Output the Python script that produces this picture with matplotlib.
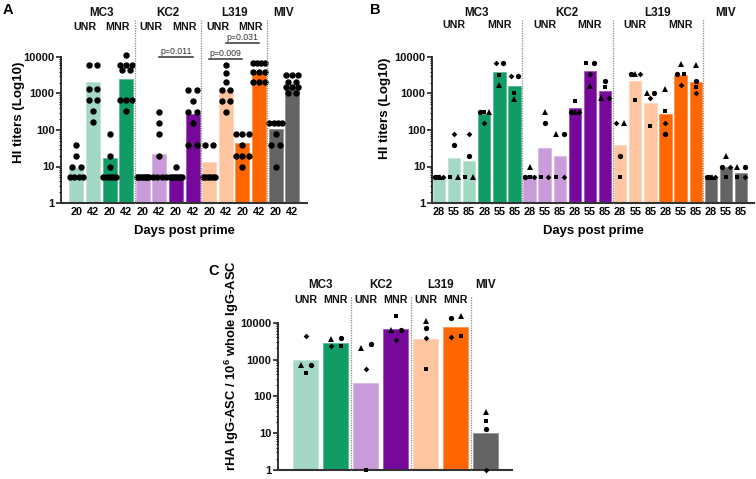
import numpy as np
import matplotlib
matplotlib.use('Agg')
import matplotlib.pyplot as plt
from matplotlib.transforms import blended_transform_factory
from matplotlib.lines import Line2D
from matplotlib.ticker import LogLocator, NullFormatter, FixedLocator, FixedFormatter

# ---------------- data ----------------
strains = ['MC3', 'KC2', 'L319', 'MIV']
regimens = ['UNR', 'MNR']
days_A = ['20', '42']
days_B = ['28', '55', '85']
group_colors = ['#a3d9c4', '#109c64', '#c99bd8', '#76089a', '#ffc4a0', '#ff6600', '#646464']

# Panel A: HI titers, individual animals (circles) and bar heights
A_points = [
    [40, 20, 10, 10, 5, 5, 5, 5],
    [6000, 6000, 1320, 1320, 660, 660, 330, 168],
    [80, 20, 10, 5, 5, 5, 5, 5],
    [11500, 6000, 6000, 6000, 4400, 4400, 660, 660, 660, 330],
    [5, 5, 5, 5, 5, 5, 5, 5],
    [320, 160, 80, 20, 5, 5, 5, 5],
    [10, 5, 5, 5, 5, 5, 5, 5],
    [1280, 1280, 640, 320, 320, 160, 40, 40],
    [40, 40, 5, 5, 5, 5, 5, 5],
    [6000, 3560, 2100, 1280, 1280, 640, 640, 320],
    [80, 80, 80, 40, 20, 20, 20, 10],
    [6900, 6900, 6900, 6900, 3900, 3900, 3900, 2070, 2070, 2070],
    [160, 160, 160, 160, 80, 40, 40, 10],
    [3200, 3200, 3200, 2100, 2100, 1540, 1540, 1540, 1000, 1000],
]
A_bar = [9.3, 2030, 16.7, 2500, 5, 21.6, 5, 275, 13.5, 1250, 43, 3800, 105, 1550]
A_pvalues = [('p=0.011', 5, 7), ('p=0.009', 8, 10), ('p=0.031', 9, 11)]

# Panel B: HI titers per animal (circle, square, triangle, diamond)
B_circle = [5, 40, 20, 320, 6850, 3000, 5, 160, 80, 320, 6850, 2200, 20, 3400, 1050, 80, 3400, 2200, 5, 10, 10]
B_square = [5, 5, 5, 320, 3300, 1000, 5, 5, 5, 640, 6800, 1480, 5, 660, 126, 325, 3400, 1500, 5, 5, 5]
B_triangle = [5, 5, 5, 320, 1670, 720, 10, 320, 79, 320, 1630, 735, 160, 3400, 1040, 1300, 6600, 5900, 5, 20, 9.9]
B_diamond = [5, 80, 80, 160, 6800, 2980, 5, 5, 5, 320, 3400, 740, 158, 3400, 740, 160, 1670, 1050, 5, 10, 5]
B_bar = [5, 16.7, 14, 275, 3900, 1600, 5.9, 32, 19, 390, 4060, 1170, 39, 2200, 560, 270, 3150, 2050, 5, 10, 6.8]

# Panel C: rHA IgG-ASC per 10^6 IgG-ASC (circle, square, triangle, diamond)
C_circle = [710, 3950, 2620, 6350, 7370, 13800, 13]
C_square = [425, 2340, 1, 15200, 555, 4300, 22]
C_triangle = [705, 3550, 2030, 6200, 11400, 15500, 38]
C_diamond = [4460, 2330, 545, 3400, 3950, 4200, 1]
C_bar = [975, 2880, 235, 6620, 3640, 7800, 10]

# ---------------- setup ----------------
W, H = 756, 479
plt.rcParams['font.family'] = ['Liberation Sans', 'DejaVu Sans']
plt.rcParams['font.weight'] = 'bold'
plt.rcParams['mathtext.fontset'] = 'custom'
plt.rcParams['mathtext.rm'] = 'Liberation Sans:bold'
plt.rcParams['mathtext.default'] = 'rm'
fig = plt.figure(figsize=(W / 100, H / 100), dpi=100)


def fy(y):
    return 1 - y / H


def lighten(c, f):
    rgb = np.array(matplotlib.colors.to_rgb(c))
    return tuple(rgb + (1 - rgb) * f)


def make_axes(rect_px, xlim):
    l, t, r, b = rect_px
    ax = fig.add_axes([l / W, 1 - b / H, (r - l) / W, (b - t) / H])
    ax.set_yscale('log')
    ax.set_ylim(1, 10000)
    ax.set_xlim(*xlim)
    for s in ['top', 'right']:
        ax.spines[s].set_visible(False)
    ax.spines['left'].set_linewidth(1.3)
    ax.spines['left'].set_color('#222222')
    ax.spines['bottom'].set_linewidth(1.5)
    ax.spines['bottom'].set_color('#333333')
    ax.yaxis.set_major_locator(FixedLocator([1, 10, 100, 1000, 10000]))
    ax.yaxis.set_major_formatter(FixedFormatter(['1', '10', '100', '1000', '10000']))
    ax.yaxis.set_minor_locator(LogLocator(base=10, subs=np.arange(2, 10)))
    ax.yaxis.set_minor_formatter(NullFormatter())
    ax.tick_params(axis='y', which='major', length=3.5, width=1.1, pad=1.2, labelsize=8, colors='#111111')
    ax.tick_params(axis='y', which='minor', length=1.8, width=0.7)
    ax.tick_params(axis='x', length=0, pad=3.0, labelsize=7.8)
    px_per_unit = (r - l) / (xlim[1] - xlim[0])
    return ax, px_per_unit


def swarm(vals, tol_dec, spacing_px, span_px, ppu):
    logs = np.log10(np.asarray(vals, dtype=float))
    order = np.argsort(logs, kind='stable')
    groups, cur = [], [order[0]]
    for i in order[1:]:
        if logs[i] - logs[cur[0]] <= tol_dec:
            cur.append(i)
        else:
            groups.append(cur)
            cur = [i]
    groups.append(cur)
    offs = np.zeros(len(vals))
    for g in groups:
        n = len(g)
        if n > 1:
            sp = min(spacing_px, span_px / (n - 1))
            for k, i in enumerate(g):
                offs[i] = (k - (n - 1) / 2) * sp / ppu
    return offs


def separators(ax, xs, ytop_px):
    tr = blended_transform_factory(ax.transData, fig.transFigure)
    ybot = ax.get_position().y0
    for x in xs:
        fig.add_artist(Line2D([x, x], [fy(ytop_px), ybot], transform=tr, color='#8a8a8a',
                              lw=0.9, ls=(0, (1, 1))))


def labels(ax, items, y_px, size):
    tr = blended_transform_factory(ax.transData, fig.transFigure)
    for x, s in items:
        fig.text(x, fy(y_px), s, transform=tr, ha='center', va='center', fontsize=size,
                 fontweight='bold', color='#111111')


# ---------------- Panel A ----------------
axA, ppuA = make_axes((61, 57, 307, 203), (-0.93, 13.89))
nA = len(A_bar)
xA = np.arange(nA)
colA = [group_colors[i // 2] for i in range(nA)]
axA.bar(xA, np.array(A_bar) - 1, bottom=1, width=0.85, color=colA,
        edgecolor=[lighten(c, 0.3) for c in colA], linewidth=0.6, zorder=2)
for i, pts in enumerate(A_points):
    off = swarm(pts, 0.1, 8.3, 12.5, ppuA)
    axA.plot(xA[i] + off, pts, 'o', ms=4.6, color='black', mec='black', mew=0,
             clip_on=False, zorder=3)
axA.set_xticks(xA)
axA.set_xticklabels(days_A * (nA // 2), fontweight='bold')
separators(axA, [3.5, 7.5, 11.5], 20)
labels(axA, [(1.5, 'MC3'), (5.5, 'KC2'), (9.5, 'L319'), (12.5, 'MIV')], 13, 8.4)
labels(axA, [(0.5, 'UNR'), (2.5, 'MNR'), (4.5, 'UNR'), (6.5, 'MNR'), (8.5, 'UNR'), (10.5, 'MNR')], 26.5, 7.7)
trA = blended_transform_factory(axA.transData, fig.transFigure)
pv_y = {'p=0.011': 57.3, 'p=0.009': 59.0, 'p=0.031': 43.0}
for txt, a, b in A_pvalues:
    yl = pv_y[txt]
    fig.add_artist(Line2D([a, b], [fy(yl), fy(yl)], transform=trA, color='#333333', lw=1.1))
    fig.text((a + b) / 2, fy(yl - 1.5), txt, transform=trA, ha='center', va='bottom',
             fontsize=6.3, fontweight='normal', color='#333333')
fig.text(184 / W, fy(231), 'Days post prime', ha='center', va='center', fontsize=9.4, fontweight='bold')
fig.text(19 / W, fy(112), 'HI titers (Log10)', ha='center', va='center', rotation=90,
         fontsize=9.6, fontweight='bold')
fig.text(3 / W, fy(10), 'A', ha='left', va='center', fontsize=10.5, fontweight='bold')

# ---------------- Panel B ----------------
axB, ppuB = make_axes((432, 57, 754, 203), (-0.46, 20.86))
nB = len(B_bar)
xB = np.arange(nB)
colB = [group_colors[i // 3] for i in range(nB)]
axB.bar(xB, np.array(B_bar) - 1, bottom=1, width=0.82, color=colB,
        edgecolor=[lighten(c, 0.3) for c in colB], linewidth=0.6, zorder=2)
markers = [('o', 3.8), ('s', 3.5), ('^', 4.0), ('D', 2.9)]
B_animals = [B_circle, B_square, B_triangle, B_diamond]
for i in range(nB):
    vals = [an[i] for an in B_animals]
    off = swarm(vals, 0.137, 7.6, 8.5, ppuB)
    for k, (m, ms) in enumerate(markers):
        axB.plot(xB[i] + off[k], vals[k], m, ms=ms, color='black', mew=0, clip_on=False, zorder=3)
axB.set_xticks(xB)
axB.set_xticklabels(days_B * (nB // 3), fontweight='bold')
separators(axB, [5.5, 11.5, 17.5], 20)
labels(axB, [(2.5, 'MC3'), (8.5, 'KC2'), (14.5, 'L319'), (19, 'MIV')], 12.5, 8.4)
labels(axB, [(1, 'UNR'), (4, 'MNR'), (7, 'UNR'), (10, 'MNR'), (13, 'UNR'), (16, 'MNR')], 25.5, 7.7)
fig.text(593 / W, fy(231), 'Days post prime', ha='center', va='center', fontsize=9.4, fontweight='bold')
fig.text(385 / W, fy(108), 'HI titers (Log10)', ha='center', va='center', rotation=90,
         fontsize=9.6, fontweight='bold')
fig.text(370 / W, fy(10), 'B', ha='left', va='center', fontsize=10.5, fontweight='bold')

# ---------------- Panel C ----------------
axC, ppuC = make_axes((278, 322.7, 512, 470), (-0.917, 6.883))
nC = len(C_bar)
xC = np.arange(nC)
colC = group_colors
axC.bar(xC, np.array(C_bar) - 1, bottom=1, width=0.83, color=colC,
        edgecolor=[lighten(c, 0.3) for c in colC], linewidth=0.6, zorder=2)
C_animals = [C_circle, C_square, C_triangle, C_diamond]
for i in range(nC):
    vals = [an[i] for an in C_animals]
    off = swarm(vals, 0.137, 10, 12, ppuC)
    for k, (m, ms) in enumerate(markers):
        axC.plot(xC[i] + off[k], vals[k], m, ms=ms, color='black', mew=0, clip_on=False, zorder=3)
axC.set_xticks([])
separators(axC, [1.5, 3.5, 5.5], 297)
labels(axC, [(0.5, 'MC3'), (2.5, 'KC2'), (4.5, 'L319'), (6, 'MIV')], 285, 8.4)
labels(axC, [(0, 'UNR'), (1, 'MNR'), (2, 'UNR'), (3, 'MNR'), (4, 'UNR'), (5, 'MNR')], 300, 7.7)
fig.text(232 / W, fy(366), 'rHA IgG-ASC / 10$^{6}$ whole IgG-ASC', ha='center', va='center',
         rotation=90, fontsize=9.4, fontweight='bold')
fig.text(208 / W, fy(271), 'C', ha='left', va='center', fontsize=10.5, fontweight='bold')

fig.savefig('out.png', dpi=100)
